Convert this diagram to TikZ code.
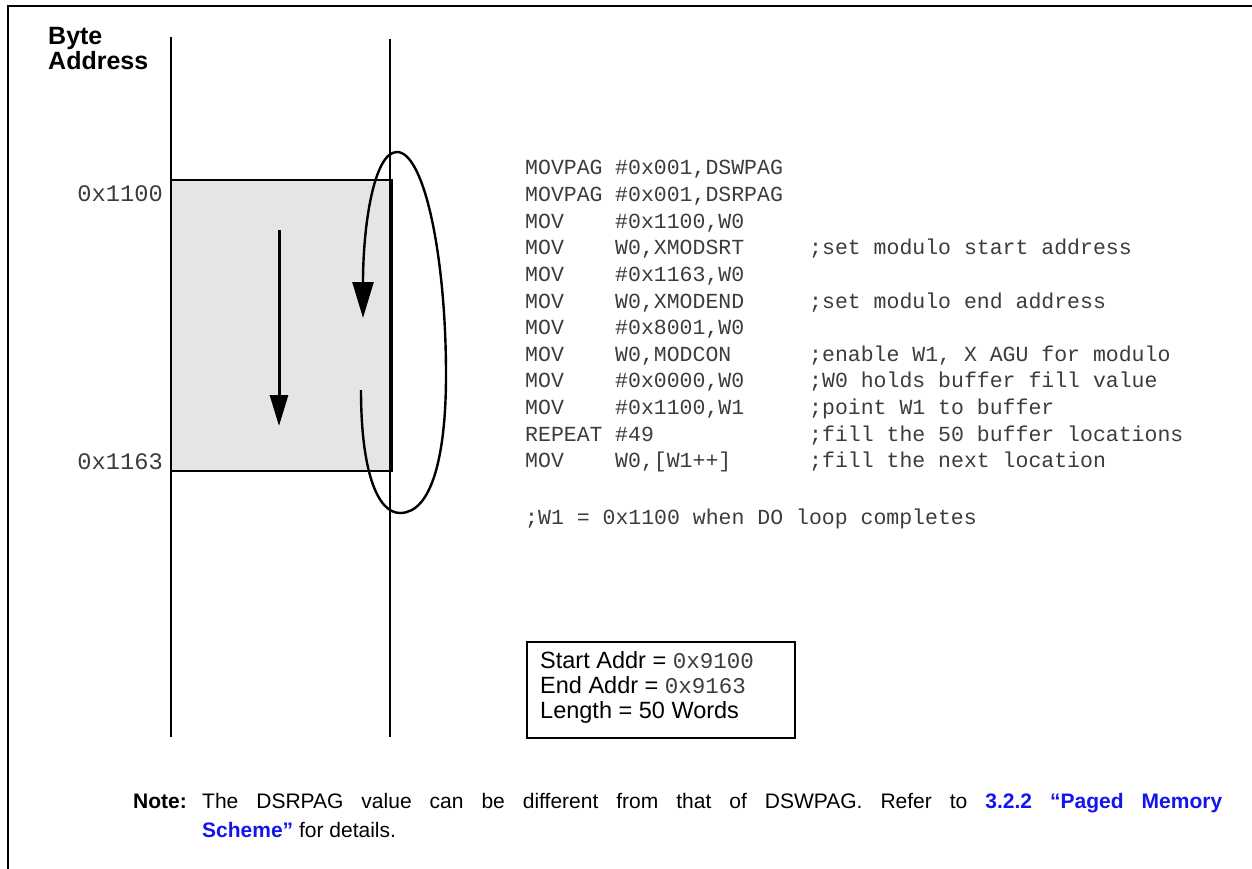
\documentclass[tikz,border=0pt]{standalone}
\usepackage{fontspec}
\setmainfont{Liberation Sans}
\setmonofont{Liberation Mono}
\usetikzlibrary{arrows.meta}
\definecolor{codegray}{RGB}{60,60,60}
\definecolor{linkblue}{RGB}{20,20,240}
\definecolor{bufgray}{RGB}{229,229,229}
\begin{document}
\begin{tikzpicture}[x=1pt,y=-1pt,
  code/.style={anchor=base west,inner sep=0pt,font=\fontsize{21.5}{26}\ttfamily,text=codegray},
  addr/.style={anchor=base east,inner sep=0pt,font=\fontsize{23.7}{28}\ttfamily,text=codegray},
  sans/.style={anchor=base west,inner sep=0pt,font=\fontsize{23.5}{26}\selectfont},
  note/.style={anchor=base west,inner sep=0pt,font=\fontsize{21}{26}\selectfont},
  rail/.style={line width=2pt},
  arr/.style={line width=2.4pt}]
\useasboundingbox (0,0) rectangle (1252,869);
% frame
\draw[line width=2.5pt] (8,900) -- (8,6) -- (1260,6);
% memory rails
\coordinate (l1) at (171,37); \coordinate (l2) at (171,737);
\coordinate (r1) at (390,39); \coordinate (r2) at (390,737);
% buffer
\path[fill=bufgray,draw=black,line width=2pt] (171,180) rectangle (392,471);
\draw[rail] (l1) -- (l2);
\draw[rail] (r1) -- (r2);
% header
\node[anchor=base west,inner sep=0pt,font=\fontsize{25}{26}\bfseries] (byte) at (48,45) {Byte};
\node[anchor=base west,inner sep=0pt,font=\fontsize{25}{26}\bfseries] (address) at (48,70) {Address};
% address labels
\node[addr] (a1100) at (163,201.5) {0x1100};
\node[addr] (a1163) at (163,469) {0x1163};
% straight arrow
\coordinate (s1) at (279,230); \coordinate (s2) at (279,426);
\draw[line width=3pt,-{Triangle[length=31pt,width=18pt]}] (s1) -- (s2);
% loop
\coordinate (c0) at (361,390);
\coordinate (c1) at (363,318);
\draw[arr,-{Triangle[length=36pt,width=21pt]}] (c0) .. controls (361,470) and (377,513) .. (400,513)
  .. controls (432,513) and (446,455) .. (446,375)
  .. controls (446,255) and (424,152) .. (397,152)
  .. controls (374,152) and (363,225) .. (c1);
% code
\def\cx{525}\def\cy{615}\def\cz{809}
\node[code] (o1) at (\cx,175) {MOVPAG}; \node[code] (p1) at (\cy,175) {\#0x001,DSWPAG};
\node[code] (o2) at (\cx,201.6) {MOVPAG}; \node[code] (p2) at (\cy,201.6) {\#0x001,DSRPAG};
\node[code] (o3) at (\cx,228.2) {MOV}; \node[code] (p3) at (\cy,228.2) {\#0x1100,W0};
\node[code] (o4) at (\cx,254.8) {MOV}; \node[code] (p4) at (\cy,254.8) {W0,XMODSRT}; \node[code] (k4) at (\cz,254.8) {;set modulo start address};
\node[code] (o5) at (\cx,281.4) {MOV}; \node[code] (p5) at (\cy,281.4) {\#0x1163,W0};
\node[code] (o6) at (\cx,308) {MOV}; \node[code] (p6) at (\cy,308) {W0,XMODEND}; \node[code] (k6) at (\cz,308) {;set modulo end address};
\node[code] (o7) at (\cx,334.6) {MOV}; \node[code] (p7) at (\cy,334.6) {\#0x8001,W0};
\node[code] (o8) at (\cx,361.2) {MOV}; \node[code] (p8) at (\cy,361.2) {W0,MODCON}; \node[code] (k8) at (\cz,361.2) {;enable W1, X AGU for modulo};
\node[code] (o9) at (\cx,387.8) {MOV}; \node[code] (p9) at (\cy,387.8) {\#0x0000,W0}; \node[code] (k9) at (\cz,387.8) {;W0 holds buffer fill value};
\node[code] (o10) at (\cx,414.4) {MOV}; \node[code] (p10) at (\cy,414.4) {\#0x1100,W1}; \node[code] (k10) at (\cz,414.4) {;point W1 to buffer};
\node[code] (o11) at (\cx,441) {REPEAT}; \node[code] (p11) at (\cy,441) {\#49}; \node[code] (k11) at (\cz,441) {;fill the 50 buffer locations};
\node[code] (o12) at (\cx,467.6) {MOV}; \node[code] (p12) at (\cy,467.6) {W0,[W1++]}; \node[code] (k12) at (\cz,467.6) {;fill the next location};
\node[code] (done) at (\cx,524) {;W1 = 0x1100 when DO loop completes};
% info box
\draw[line width=1.8pt] (527,642) rectangle (795,738);
\node[sans] (start) at (540,668) {Start Addr = {\fontsize{22.5}{26}\ttfamily\color{codegray}0x9100}};
\node[sans] (end) at (540,693) {End Addr = {\fontsize{22.5}{26}\ttfamily\color{codegray}0x9163}};
\node[sans] (len) at (540,718) {Length = 50 Words};
% note
\node[note,font=\fontsize{21}{26}\bfseries] (notelbl) at (133,808) {Note:};
\node[note] (note1) at (202,808) {\makebox[1020pt][s]{The DSRPAG value can be different from that of DSWPAG. Refer to {\bfseries\color{linkblue}3.2.2 “Paged Memory}}};
\node[note] (note2) at (202,837) {{\bfseries\color{linkblue}Scheme”} for details.};
\end{tikzpicture}
\end{document}
